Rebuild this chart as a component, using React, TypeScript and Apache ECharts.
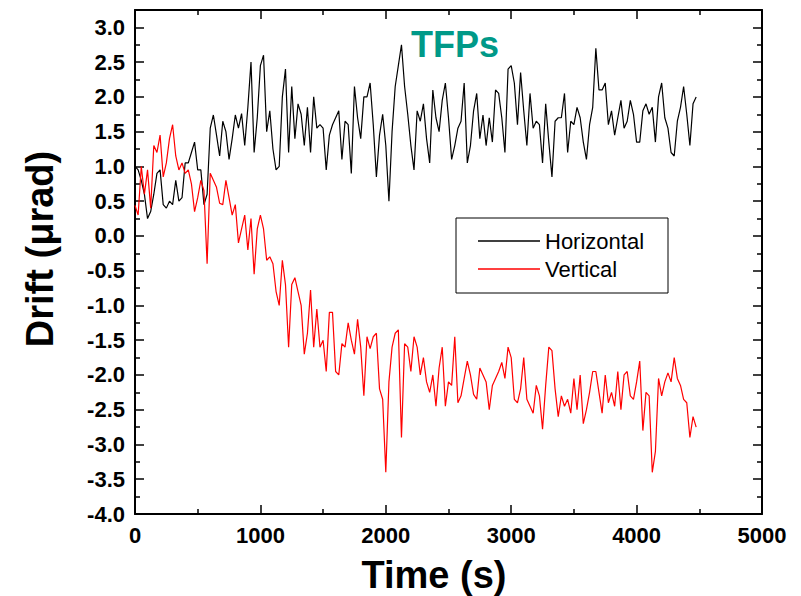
import React, { useEffect, useRef } from "react";
import * as echarts from "echarts";

const TITLE = "TFPs";
const X_NAME = "Time (s)";
const Y_NAME = "Drift (μrad)";
const SERIES_NAMES = ["Horizontal", "Vertical"];
const SAMPLE_STEP_S = 25;

const HORIZONTAL = [
  1.0, 0.95, 0.8, 0.6, 0.25, 0.35, 0.6, 0.9, 0.95, 0.45,
  0.4, 0.5, 0.45, 0.8, 0.5, 0.55, 1.05, 1.05, 1.2, 1.35,
  0.95, 0.95, 0.45, 0.6, 1.55, 1.74, 1.45, 1.15, 1.65, 1.5,
  1.1, 1.4, 1.74, 1.55, 1.76, 1.3, 1.85, 2.5, 1.2, 1.7,
  2.45, 2.6, 1.5, 1.8, 1.25, 0.95, 1.0, 2.0, 2.4, 1.2,
  2.15, 1.4, 1.9, 1.75, 1.3, 1.85, 1.2, 2.0, 1.55, 1.6,
  1.55, 0.95, 1.45, 1.6, 1.7, 1.8, 1.1, 1.65, 1.6, 0.9,
  2.15, 1.7, 1.4, 2.0, 2.0, 2.2, 1.6, 0.85, 1.45, 1.75,
  1.3, 0.5, 1.5, 2.15, 2.45, 2.75, 2.15, 1.75, 1.3, 0.95,
  1.8, 1.65, 1.9, 1.4, 1.05, 2.1, 1.7, 1.5, 1.95, 2.2,
  1.7, 1.1, 1.3, 1.55, 1.65, 2.2, 1.05, 1.3, 1.8, 2.05,
  1.4, 1.74, 1.3, 1.7, 1.35, 2.1, 2.05, 1.7, 1.2, 2.4,
  2.45, 2.2, 1.6, 2.35, 1.8, 1.3, 2.05, 1.55, 1.65, 1.6,
  1.05, 1.9, 1.35, 0.85, 1.65, 1.7, 1.7, 2.05, 1.2, 1.65,
  1.6, 1.85, 1.7, 1.35, 1.1, 1.6, 1.85, 2.7, 2.1, 2.1,
  2.2, 1.6, 1.8, 1.45, 1.7, 1.95, 1.55, 1.65, 1.95, 1.75,
  1.35, 1.35, 1.8, 1.9, 1.75, 1.85, 1.35, 2.0, 2.2, 1.7,
  1.55, 1.2, 1.15, 1.65, 1.85, 2.15, 1.75, 1.3, 1.9, 2.0,
];

const VERTICAL = [
  0.44, 0.3, 1.0, 0.6, 0.95, 0.4, 1.3, 1.2, 1.45, 0.85,
  1.05, 1.4, 1.6, 1.15, 0.95, 1.05, 0.9, 0.95, 0.75, 0.35,
  0.55, 0.8, 0.65, -0.4, 0.9, 0.8, 0.7, 0.47, 0.45, 0.8,
  0.55, 0.3, 0.45, -0.1, 0.1, 0.3, -0.2, 0.25, -0.55, 0.1,
  0.3, 0.1, -0.35, -0.3, -0.4, -0.8, -1.0, -0.35, -0.7, -1.6,
  -0.7, -0.6, -0.8, -1.0, -1.7, -1.4, -0.78, -1.6, -1.05, -1.6,
  -1.5, -1.95, -1.1, -1.1, -1.95, -2.0, -1.55, -1.6, -1.25, -1.5,
  -1.7, -1.2, -1.6, -2.3, -1.45, -1.62, -1.45, -1.4, -2.2, -2.35,
  -3.4, -2.1, -1.6, -1.4, -1.35, -2.9, -1.55, -1.6, -1.95, -1.45,
  -1.6, -2.0, -1.75, -2.1, -2.25, -2.0, -2.45, -1.9, -1.6, -2.45,
  -2.1, -2.15, -1.45, -2.4, -2.3, -2.05, -1.8, -2.0, -2.28, -2.35,
  -1.9, -2.0, -2.1, -2.5, -2.15, -2.05, -1.95, -1.82, -2.05, -1.6,
  -1.75, -2.35, -2.4, -2.2, -1.75, -2.35, -2.45, -2.55, -2.15, -2.3,
  -2.78, -2.15, -1.6, -1.65, -2.2, -2.6, -2.3, -2.45, -2.35, -2.55,
  -2.05, -2.5, -2.0, -2.7, -2.5, -2.25, -1.95, -1.95, -2.25, -2.55,
  -2.0, -2.4, -2.25, -2.45, -1.95, -2.5, -2.0, -1.95, -2.3, -2.35,
  -2.1, -1.8, -2.8, -2.25, -2.3, -3.4, -3.1, -2.05, -2.3, -2.1,
  -1.97, -2.1, -1.75, -2.05, -2.15, -2.35, -2.4, -2.9, -2.6, -2.75,
];

const X_MIN = 0;
const X_MAX = 5000;
const X_INTERVAL = 1000;
const Y_MIN = -4;
const Y_MAX = 3.25;
const Y_TICKS = [-4, -3.5, -3, -2.5, -2, -1.5, -1, -0.5, 0, 0.5, 1, 1.5, 2, 2.5, 3];
const Y_MINOR_TICKS = [-3.75, -3.25, -2.75, -2.25, -1.75, -1.25, -0.75, -0.25, 0.25, 0.75, 1.25, 1.75, 2.25, 2.75];

const FONT = "'Liberation Sans', Arial, Helvetica, sans-serif";

function toPairs(values: number[]) {
  return values.map((v, i) => [i * SAMPLE_STEP_S, v]);
}

export default function App() {
  const ref = useRef<HTMLDivElement>(null);

  useEffect(() => {
    document.body.style.margin = "0";
    if (!ref.current) return;
    const chart = echarts.init(ref.current, undefined, { renderer: "svg" });

    const axisLine = { show: true, onZero: false, lineStyle: { color: "#000", width: 2 } };
    const noLine = { show: false, onZero: false };
    const majorTick = { show: true, inside: true, length: 9, lineStyle: { color: "#000", width: 1.5 } };
    const minorTickStyle = { show: true, inside: true, length: 5, lineStyle: { color: "#000", width: 1.5 } };
    const labelStyle = {
      color: "#000",
      fontSize: 22,
      fontWeight: "bold" as const,
      fontFamily: FONT,
    };

    const yBase = {
      type: "value" as const,
      min: Y_MIN,
      max: Y_MAX,
      splitLine: { show: false },
    };

    chart.setOption({
      animation: false,
      backgroundColor: "#fff",
      grid: { left: 135, right: 39, top: 10, bottom: 82, containLabel: false },
      xAxis: [
        {
          type: "value",
          position: "bottom",
          min: X_MIN,
          max: X_MAX,
          interval: X_INTERVAL,
          axisLine,
          axisTick: majorTick,
          minorTick: { ...minorTickStyle, splitNumber: 2 },
          splitLine: { show: false },
          minorSplitLine: { show: false },
          axisLabel: { ...labelStyle, margin: 10, formatter: (v: number) => String(v) },
        },
        {
          type: "value",
          position: "top",
          min: X_MIN,
          max: X_MAX,
          interval: X_INTERVAL,
          axisLine,
          axisTick: majorTick,
          minorTick: { ...minorTickStyle, splitNumber: 2 },
          splitLine: { show: false },
          axisLabel: { show: false },
        },
      ],
      yAxis: [
        {
          ...yBase,
          position: "left",
          axisLine,
          axisTick: { ...majorTick, customValues: Y_TICKS },
          axisLabel: {
            ...labelStyle,
            margin: 10,
            customValues: Y_TICKS,
            formatter: (v: number) => v.toFixed(1),
          },
        },
        {
          ...yBase,
          position: "left",
          axisLine: noLine,
          axisTick: { ...minorTickStyle, customValues: Y_MINOR_TICKS },
          axisLabel: { show: false },
        },
        {
          ...yBase,
          position: "right",
          axisLine,
          axisTick: { ...majorTick, customValues: Y_TICKS },
          axisLabel: { show: false },
        },
        {
          ...yBase,
          position: "right",
          axisLine: noLine,
          axisTick: { ...minorTickStyle, customValues: Y_MINOR_TICKS },
          axisLabel: { show: false },
        },
      ],
      legend: {
        orient: "vertical",
        left: 478,
        top: 230,
        padding: 0,
        itemWidth: 62,
        itemHeight: 1.4,
        itemGap: 6,
        textStyle: { color: "#000", fontSize: 22, fontFamily: FONT },
        data: SERIES_NAMES.map((name) => ({ name, icon: "rect" })),
      },
      graphic: [
        {
          type: "rect",
          z: 3,
          shape: { x: 456, y: 218, width: 212, height: 75 },
          style: { fill: "#fff", stroke: "#000", lineWidth: 1 },
        },
        {
          type: "text",
          x: 455,
          y: 44,
          style: {
            text: TITLE,
            fill: "#009988",
            fontSize: 36,
            fontWeight: "bold",
            fontFamily: FONT,
            textAlign: "center",
            textVerticalAlign: "middle",
          },
        },
        {
          type: "text",
          x: 434,
          y: 575,
          style: {
            text: X_NAME,
            fill: "#000",
            fontSize: 38,
            fontWeight: "bold",
            fontFamily: FONT,
            textAlign: "center",
            textVerticalAlign: "middle",
          },
        },
        {
          type: "text",
          x: 40,
          y: 249,
          rotation: Math.PI / 2,
          style: {
            text: Y_NAME,
            fill: "#000",
            fontSize: 38,
            fontWeight: "bold",
            fontFamily: FONT,
            textAlign: "center",
            textVerticalAlign: "middle",
          },
        },
      ],
      series: [
        {
          name: SERIES_NAMES[0],
          type: "line",
          xAxisIndex: 0,
          yAxisIndex: 0,
          data: toPairs(HORIZONTAL),
          symbol: "none",
          lineStyle: { color: "#000", width: 1.2 },
          itemStyle: { color: "#000" },
        },
        {
          name: SERIES_NAMES[1],
          type: "line",
          xAxisIndex: 0,
          yAxisIndex: 0,
          data: toPairs(VERTICAL),
          symbol: "none",
          lineStyle: { color: "#ff0000", width: 1.2 },
          itemStyle: { color: "#ff0000" },
        },
      ],
    });

    return () => chart.dispose();
  }, []);

  return <div ref={ref} style={{ width: 801, height: 596 }} />;
}
